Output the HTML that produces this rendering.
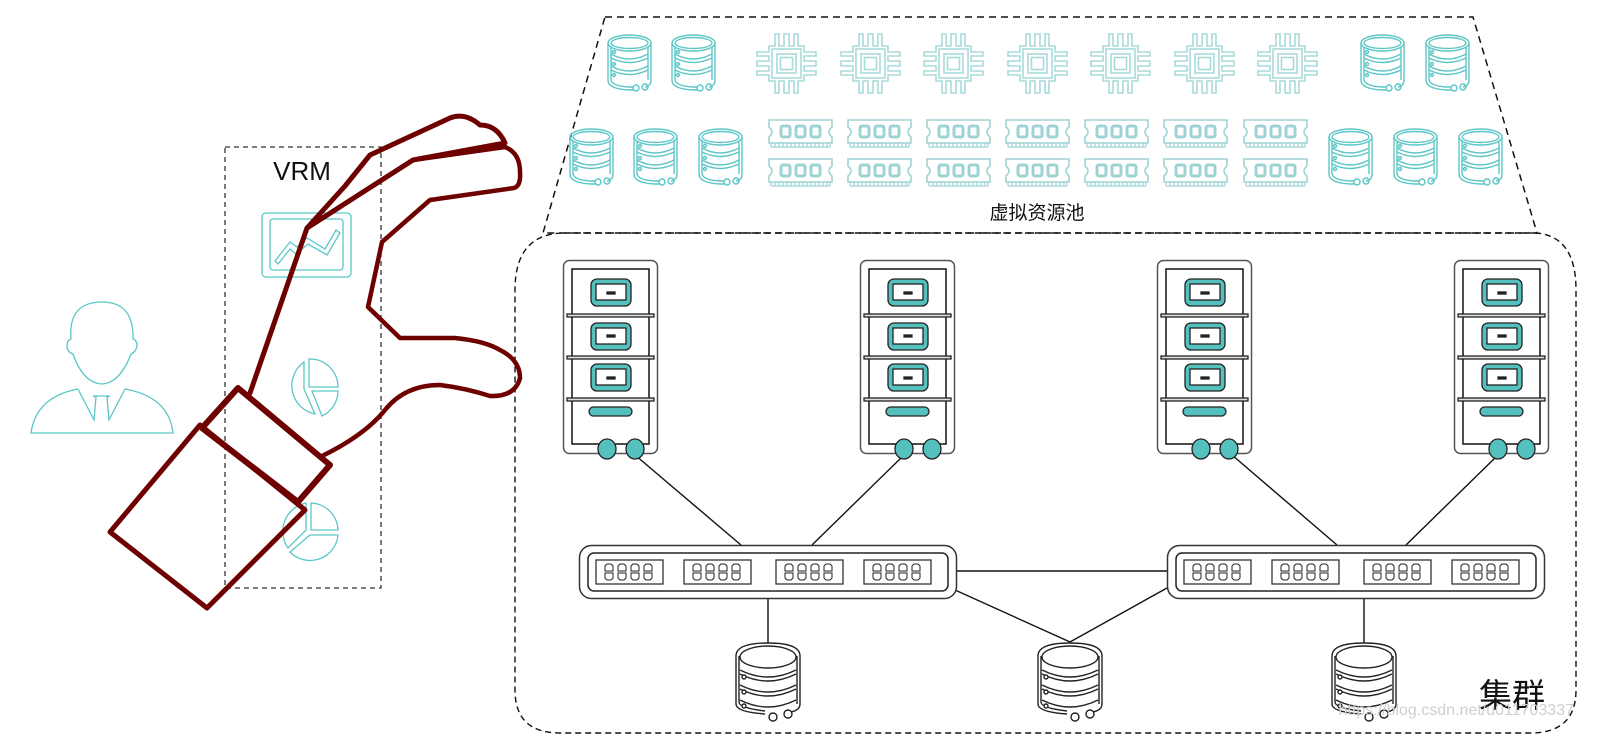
<!DOCTYPE html>
<html><head><meta charset="utf-8"><style>
html,body{margin:0;padding:0;background:#fff;width:1602px;height:738px;overflow:hidden}
svg{display:block}
</style></head><body>
<svg width="1602" height="738" viewBox="0 0 1602 738" xmlns="http://www.w3.org/2000/svg">
<defs>
 <g id="tdb" fill="none" stroke="#5cc6c6" stroke-width="1.4">
  <ellipse cx="22.5" cy="9" rx="21.5" ry="8"/>
  <ellipse cx="22.5" cy="9" rx="18.5" ry="5.5"/>
  <path d="M1 9 V46 Q1 55 22 56 H26"/>
  <path d="M44 9 V46 Q44 52 38 53"/>
  <path d="M4 13 V45 Q4 52 22 53 H26"/>
  <path d="M41 13 V46"/>
  <path d="M4 20 Q22 30 41 20 M4 24 Q22 33 41 24 M4 32 Q22 42 41 32 M4 36 Q22 45 41 36"/>
  <circle cx="7" cy="18" r="1.5"/><circle cx="7" cy="30" r="1.5"/><circle cx="7" cy="41" r="1.5"/>
  <circle cx="29" cy="54" r="3"/><circle cx="38" cy="53" r="3"/>
 </g>
 <g id="cpu" fill="none" stroke="#a8dada" stroke-width="1.6">
  <path d="M13 13 H19 V1 H23 V13 H28 V1 H33 V13 H38 V1 H42 V13 H48 V19 H60 V23 H48 V28 H60 V33 H48 V38 H60 V42 H48 V48 H42 V60 H38 V48 H33 V60 H28 V48 H23 V60 H19 V48 H13 V42 H1 V38 H13 V33 H1 V28 H13 V23 H1 V19 H13 Z"/>
  <rect x="16" y="16" width="29" height="29"/>
  <rect x="21" y="21" width="19" height="19"/>
  <rect x="24.5" y="24.5" width="12" height="12"/>
 </g>
 <g id="ram" stroke="#9fd3d3" fill="none">
  <path d="M1 1 H64 V8 Q58 13 64 18 V24 H1 V18 Q7 13 1 8 Z" stroke-width="1.6"/>
  <rect x="13" y="7" width="9" height="11" rx="2" stroke-width="3"/>
  <rect x="28" y="7" width="9" height="11" rx="2" stroke-width="3"/>
  <rect x="43" y="7" width="9" height="11" rx="2" stroke-width="3"/>
  <path d="M3 24 V28 M7 24 V28 M11 24 V28 M15 24 V28 M19 24 V28 M23 24 V28 M27 24 V28 M31 24 V28 M35 24 V28 M39 24 V28 M43 24 V28 M47 24 V28 M51 24 V28 M55 24 V28 M59 24 V28 M62 24 V28 M3 28 H62" stroke-width="1.2"/>
 </g>
 <g id="srv">
  <rect x="0.5" y="0.5" width="94" height="193" rx="6" fill="#fff" stroke="#555" stroke-width="1.5"/>
  <rect x="9" y="9" width="77" height="175" fill="none" stroke="#111" stroke-width="1.5"/>
  <g stroke="#222" stroke-width="1.3" fill="#ddd">
   <rect x="4" y="54" width="87" height="3"/><rect x="4" y="96" width="87" height="3"/><rect x="4" y="138" width="87" height="3"/>
  </g>
  <g stroke="#222" stroke-width="1.3">
   <rect x="28" y="19" width="40" height="27" rx="6" fill="#55c1bf"/>
   <rect x="33" y="24" width="30" height="16" fill="#fff"/>
   <rect x="44" y="32" width="8" height="2" fill="#222"/>
   <rect x="28" y="63" width="40" height="27" rx="6" fill="#55c1bf"/>
   <rect x="33" y="68" width="30" height="16" fill="#fff"/>
   <rect x="44" y="75" width="8" height="2" fill="#222"/>
   <rect x="28" y="104" width="40" height="27" rx="6" fill="#55c1bf"/>
   <rect x="33" y="109" width="30" height="16" fill="#fff"/>
   <rect x="44" y="117" width="8" height="2" fill="#222"/>
   <rect x="26" y="147" width="43" height="9" rx="4.5" fill="#55c1bf"/>
   <ellipse cx="44" cy="189" rx="9" ry="10" fill="#55c1bf"/>
   <ellipse cx="72" cy="189" rx="9" ry="10" fill="#55c1bf"/>
  </g>
 </g>
 <g id="pg">
  <rect x="0" y="0" width="67" height="24" fill="#fff" stroke="#333" stroke-width="1.3"/>
  <g fill="none" stroke="#222" stroke-width="1">
   <path d="M9 11 V6 L11 4 H15 L17 6 V11 Z M22 11 V6 L24 4 H28 L30 6 V11 Z M35 11 V6 L37 4 H41 L43 6 V11 Z M48 11 V6 L50 4 H54 L56 6 V11 Z"/>
   <path d="M9 13 V18 L11 20 H15 L17 18 V13 Z M22 13 V18 L24 20 H28 L30 18 V13 Z M35 13 V18 L37 20 H41 L43 18 V13 Z M48 13 V18 L50 20 H54 L56 18 V13 Z"/>
  </g>
 </g>
 <g id="sw">
  <rect x="0.5" y="0.5" width="377" height="53" rx="12" fill="#fff" stroke="#333" stroke-width="1.5"/>
  <rect x="9" y="8" width="360" height="38" rx="6" fill="none" stroke="#222" stroke-width="1.5"/>
  <use href="#pg" x="17" y="15"/><use href="#pg" x="105" y="15"/><use href="#pg" x="197" y="15"/><use href="#pg" x="285" y="15"/>
 </g>
 <g id="bdb" fill="#fff" stroke="#222" stroke-width="1.4">
  <path d="M1 14 Q1 1 33 1 Q65 1 65 14 V62 Q65 68 56 70 M1 14 V62 Q1 70 30 72"/>
  <path d="M4 14 V60 Q4 66 30 69 M62 14 V62" fill="none"/>
  <ellipse cx="33" cy="15" rx="28" ry="11"/>
  <path d="M5 28 Q33 42 61 28 M5 32 Q33 46 61 32 M5 43 Q33 57 61 43 M5 47 Q33 61 61 47 M5 58 Q33 72 61 58" fill="none"/>
  <circle cx="9" cy="35" r="2"/><circle cx="9" cy="50" r="2"/><circle cx="9" cy="64" r="2"/>
  <circle cx="38" cy="75" r="4"/><circle cx="53" cy="72" r="4"/>
 </g>
</defs>

<path d="M605 17 H1473 L1537 233 H543 Z" fill="none" stroke="#111" stroke-width="1.5" stroke-dasharray="7,5"/>
<path d="M565 233 H1536 Q1576 236 1576 290 V690 Q1576 733 1530 733 H560 Q515 733 515 690 V290 Q515 233 565 233 Z" fill="none" stroke="#111" stroke-width="1.4" stroke-dasharray="6,4"/>

<use href="#tdb" x="607" y="34"/><use href="#tdb" x="671" y="34"/>
<use href="#tdb" x="1360" y="34"/><use href="#tdb" x="1425" y="34"/>
<use href="#tdb" x="569" y="128"/><use href="#tdb" x="633" y="128"/><use href="#tdb" x="698" y="128"/>
<use href="#tdb" x="1328" y="128"/><use href="#tdb" x="1393" y="128"/><use href="#tdb" x="1458" y="128"/>
<use href="#cpu" x="756" y="33"/><use href="#cpu" x="840" y="33"/><use href="#cpu" x="923" y="33"/><use href="#cpu" x="1007" y="33"/><use href="#cpu" x="1090" y="33"/><use href="#cpu" x="1174" y="33"/><use href="#cpu" x="1257" y="33"/>
<g>
<use href="#ram" x="768" y="119"/><use href="#ram" x="847" y="119"/><use href="#ram" x="926" y="119"/><use href="#ram" x="1005" y="119"/><use href="#ram" x="1084" y="119"/><use href="#ram" x="1163" y="119"/><use href="#ram" x="1243" y="119"/>
<use href="#ram" x="768" y="158"/><use href="#ram" x="847" y="158"/><use href="#ram" x="926" y="158"/><use href="#ram" x="1005" y="158"/><use href="#ram" x="1084" y="158"/><use href="#ram" x="1163" y="158"/><use href="#ram" x="1243" y="158"/>
</g>
<text x="1037" y="219" font-family="Liberation Sans, Noto Sans CJK SC, sans-serif" font-size="19" text-anchor="middle" fill="#111">虚拟资源池</text>

<g stroke="#111" stroke-width="1.4" fill="none">
 <line x1="635" y1="455" x2="741" y2="545"/>
 <line x1="904" y1="455" x2="812" y2="545"/>
 <line x1="1232" y1="455" x2="1337" y2="545"/>
 <line x1="1498" y1="455" x2="1406" y2="545"/>
 <line x1="957" y1="571" x2="1167" y2="571"/>
 <line x1="955" y1="590" x2="1070" y2="642"/>
 <line x1="1167" y1="588" x2="1070" y2="642"/>
 <line x1="768" y1="599" x2="768" y2="643"/>
 <line x1="1364" y1="599" x2="1364" y2="643"/>
</g>

<use href="#srv" x="563" y="260"/><use href="#srv" x="860" y="260"/><use href="#srv" x="1157" y="260"/><use href="#srv" x="1454" y="260"/>
<use href="#sw" x="579" y="545"/><use href="#sw" x="1167" y="545"/>
<use href="#bdb" x="735" y="642"/><use href="#bdb" x="1037" y="642"/><use href="#bdb" x="1331" y="642"/>

<text x="1479" y="707" font-family="Liberation Sans, Noto Sans CJK SC, sans-serif" font-size="33" fill="#111">集群</text>
<text x="1574" y="715" font-family="Liberation Sans, sans-serif" font-size="16" text-anchor="end" fill="#cfcfcf">https://blog.csdn.net/u011703337</text>

<rect x="225" y="147" width="156" height="441" fill="none" stroke="#333" stroke-width="1.3" stroke-dasharray="5,4"/>
<text x="302" y="180" font-family="Liberation Sans, sans-serif" font-size="26" text-anchor="middle" fill="#111">VRM</text>
<g fill="none" stroke="#5cc6c6" stroke-width="1.3">
 <rect x="262" y="213" width="89" height="64" rx="4"/>
 <rect x="270" y="219" width="73" height="51" rx="3"/>
 <path d="M275 261 L290 242 L297 247 L307 238 L325 249 L336 230 L340 233 L327 255 L308 244 L296 254 L290 249 L278 264 Z"/>
 <path d="M304 362 A29 29 0 0 0 315 414 L304 389 Z"/>
 <path d="M309 359 A28 28 0 0 1 338 387 H309 Z"/>
 <path d="M312 391 H338 A28 28 0 0 1 322 416 Z"/>
 <path d="M306 503 A29 29 0 0 0 288 548 L306 530 Z"/>
 <path d="M311 503 A28 28 0 0 1 338 530 H311 Z"/>
 <path d="M338 535 A28 28 0 0 1 290 552 L310 535 Z"/>
 <path d="M71 339 Q68 302 102 302 Q134 302 133 339 Q137 340 137 346 Q136 352 131 354 Q120 383 102 384 Q83 383 73 354 Q67 352 67 346 Q67 340 71 339 Z"/>
 <path d="M78 389 Q36 397 31 433 H173 Q169 397 125 389"/>
 <path d="M78 389 L94 420 L96 397 L93 396 H110 L107 397 L109 420 L125 389"/>
</g>

<g fill="none" stroke="#6e0000" stroke-linejoin="round" stroke-linecap="round">
 <path stroke-width="5" d="M250 393 L307 228 L345 186 L370 155 L450 118 Q465 112 480 125 Q497 125 505 143 L413 160 L307 228"/>
 <path stroke-width="4.5" d="M413 160 L505 147 Q520 153 520 172 Q521 186 514 188 L430 200 L382 242 L368 307 L400 338 H455 Q485 341 500 350 Q520 360 520 378 Q515 397 490 396 Q465 388 440 385 Q405 385 385 410 Q365 435 322 456"/>
 <path stroke-width="6" d="M238 388 L330 465 L298 502 L202 428 Z"/>
 <path stroke-width="5" d="M200 425 L305 510 L207 608 L110 532 Z"/>
</g>
</svg>
</body></html>
